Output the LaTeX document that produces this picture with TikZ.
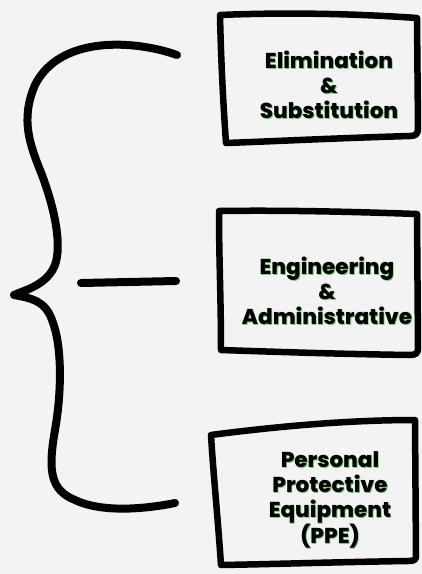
\documentclass[tikz,border=0pt]{standalone}
\usepackage{fontspec}
\setmainfont{Poppins}[BoldFont={* ExtraBold}]
\usepackage{tikz}
\usetikzlibrary{positioning}
\definecolor{paper}{HTML}{F3F3F3}
\definecolor{mint}{HTML}{6FD36F}

\begin{document}
\begin{tikzpicture}[x=1pt, y=-1pt,
    sketch/.style={line width=6.5pt, line join=round, line cap=round, black},
    lbl/.style={align=center, font=\bfseries\fontsize{21.5}{25}\selectfont},
    glow/.style={lbl, mint}]
% Canvas
\fill[paper] (0,0) rectangle (422,574);
\useasboundingbox (0,0) rectangle (422,574);

% Curly brace
\draw[line width=8pt, line cap=round, line join=round]
    (177,55) .. controls (135,40) and (60,35) .. (35,85)
    .. controls (20,120) and (30,145) .. (42,175)
    .. controls (55,210) and (62,245) .. (55,265)
    .. controls (47,285) and (25,290) .. (14,295)
    .. controls (30,298) and (45,300) .. (52,320)
    .. controls (62,345) and (62,390) .. (55,430)
    .. controls (48,470) and (50,490) .. (75,500)
    .. controls (100,512) and (140,510) .. (175,503);

% Stem
\coordinate (stemL) at (81,283);
\coordinate (stemR) at (176,281);
\draw[line width=8pt, line cap=round] (stemL) -- (stemR);

% Boxes
\draw[sketch] (220,15) .. controls (290,12) and (360,14) .. (417,18) -- (418,128)
    .. controls (418,134) and (416,136) .. (410,136)
    .. controls (340,138) and (280,141) .. (226,143)
    .. controls (223,100) and (221,60) .. cycle;
\draw[sketch] (219,211) .. controls (290,210) and (360,212) .. (417,214) -- (418,348)
    .. controls (418,353) and (416,355) .. (410,355)
    .. controls (340,354) and (280,352) .. (221,350)
    .. controls (221,300) and (219,260) .. cycle;
\draw[sketch] (211,435) .. controls (280,426) and (350,420) .. (415,420) -- (416,556)
    .. controls (416,560) and (414,561) .. (408,561)
    .. controls (340,562) and (280,564) .. (221,565)
    .. controls (218,520) and (213,470) .. cycle;

% Labels (green offset under black)
\node[glow] (elimGlow) at (329.8,85.8) {Elimination\\\&\\Substitution};
\node[lbl] (elim) at (329,85) {Elimination\\\&\\Substitution};
\node[glow] (engGlow) at (327.8,291.8) {Engineering\\\&\\Administrative};
\node[lbl] (eng) at (327,291) {Engineering\\\&\\Administrative};
\node[glow] (ppeGlow) at (330.8,500.8) {Personal\\Protective\\Equipment\\(PPE)};
\node[lbl] (ppe) at (330,500) {Personal\\Protective\\Equipment\\(PPE)};
\end{tikzpicture}
\end{document}
